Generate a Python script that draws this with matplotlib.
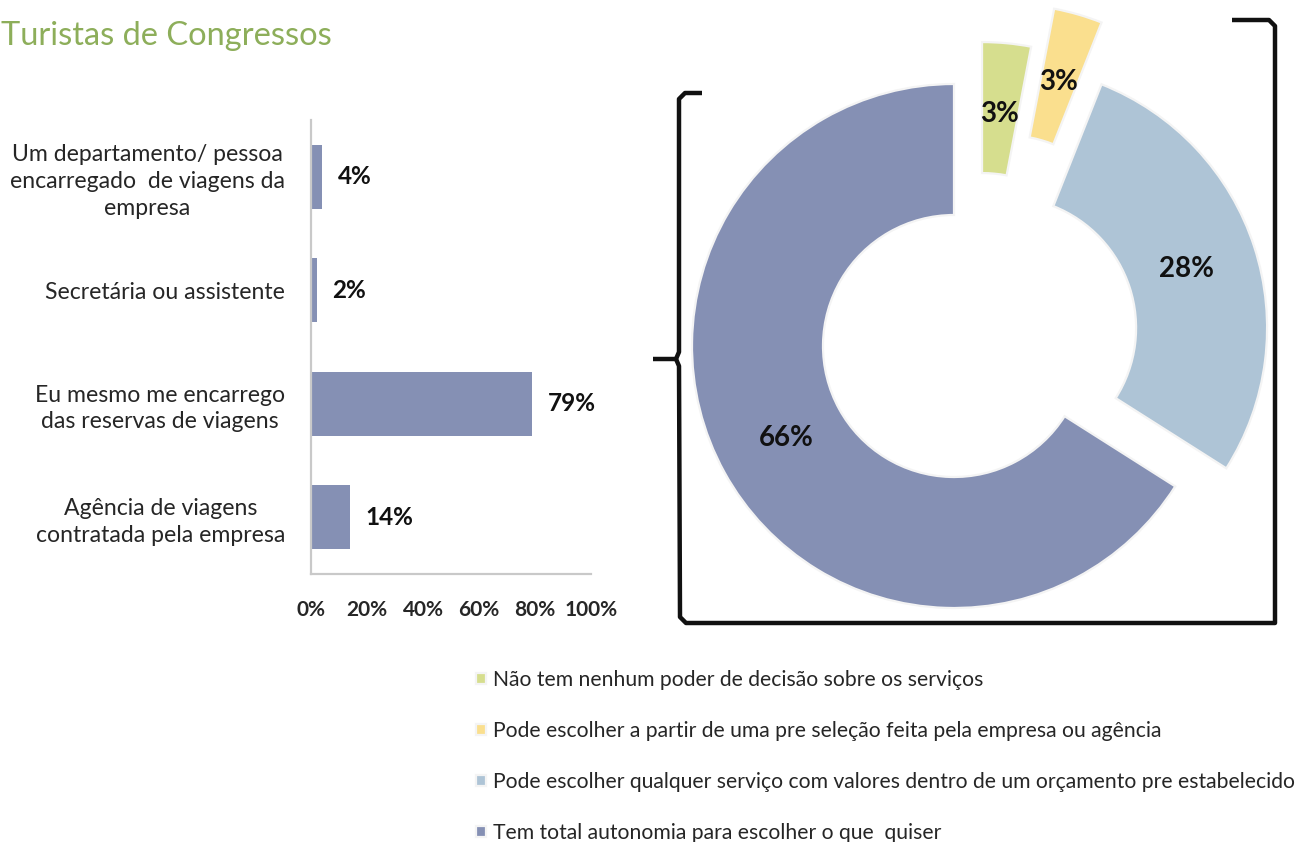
import matplotlib
matplotlib.use("Agg")
import matplotlib.pyplot as plt
import numpy as np

plt.rcParams["font.family"] = ["Lato", "DejaVu Sans"]

# ---- data ----------------------------------------------------------------
title = "Turistas de Congressos"

bar_categories = [
    "Um departamento/ pessoa\nencarregado  de viagens da\nempresa",
    "Secretária ou assistente",
    "Eu mesmo me encarrego\ndas reservas de viagens",
    "Agência de viagens\ncontratada pela empresa",
]
bar_values = [4, 2, 79, 14]
x_ticks = [0, 20, 40, 60, 80, 100]
x_tick_labels = ["0%", "20%", "40%", "60%", "80%", "100%"]

donut_labels = [
    "Não tem nenhum poder de decisão sobre os serviços",
    "Pode escolher a partir de uma pre seleção feita pela empresa ou agência",
    "Pode escolher qualquer serviço com valores dentro de um orçamento pre estabelecido",
    "Tem total autonomia para escolher o que  quiser",
]
donut_values = [3, 3, 28, 66]

# ---- styling -------------------------------------------------------------
BAR_COLOR = "#8590B4"
DONUT_COLORS = ["#D6DE8E", "#FADF8E", "#AEC4D6", "#8590B4"]
# shift of each ring segment away from the ring centre (in radius units)
SEGMENT_SHIFT = [(0.107, 0.160), (0.195, 0.305), (0.195, 0.069), (0.0, 0.0)]
TEXT = "#262626"

W, H = 1303, 842
fig = plt.figure(figsize=(W / 100, H / 100), dpi=100)


def fig_rect(x0, y0, x1, y1):
    """Pixel box (top-left origin) -> figure fraction rect."""
    return [x0 / W, 1 - y1 / H, (x1 - x0) / W, (y1 - y0) / H]


# ---- horizontal bar chart -------------------------------------------------
ax_x0, ax_x1 = 311, 591
ax = fig.add_axes(fig_rect(ax_x0, 120, ax_x1, 574))
ypos = np.arange(len(bar_values))
ax.barh(ypos, bar_values, height=0.56, color=BAR_COLOR, zorder=2)
ax.set_ylim(len(bar_values) - 0.5, -0.5)
ax.set_xlim(0, 100)
ax.set_yticks(ypos)
ax.set_yticklabels(bar_categories, fontsize=16.6, color=TEXT,
                   ha="right", multialignment="center", linespacing=1.33)
for lab in ax.get_yticklabels():
    lab.set_x((285 - ax_x0) / (ax_x1 - ax_x0))
ax.set_xticks(x_ticks)
ax.set_xticklabels(x_tick_labels, fontsize=15, fontweight="bold", color=TEXT)
ax.tick_params(axis="both", length=0)
ax.tick_params(axis="x", pad=19)
ax.tick_params(axis="y", pad=0)
for side in ("top", "right"):
    ax.spines[side].set_visible(False)
for side in ("left", "bottom"):
    ax.spines[side].set_color("#c9c9c9")
    ax.spines[side].set_linewidth(1.6)
for y, v in zip(ypos, bar_values):
    ax.annotate(f"{v}%", xy=(v, y), xytext=(11, 0), textcoords="offset points",
                va="center", ha="left", fontsize=17.5, fontweight="bold",
                color="#111111")

# ---- donut chart ----------------------------------------------------------
cx, cy, R = 954, 346, 262
x0, x1, y0, y1 = 640, 1290, 0, 650
dax = fig.add_axes(fig_rect(x0, y0, x1, y1))
wedges, _ = dax.pie(donut_values, colors=DONUT_COLORS, startangle=90,
                    counterclock=False, radius=1.0,
                    wedgeprops=dict(width=0.5, edgecolor="#f4f4f4",
                                    linewidth=1.6))
dax.set_xlim((x0 - cx) / R, (x1 - cx) / R)
dax.set_ylim((cy - y1) / R, (cy - y0) / R)
dax.set_aspect("equal")
dax.axis("off")
for w, (dx, dy), v in zip(wedges, SEGMENT_SHIFT, donut_values):
    w.set_center((dx, dy))
    w.set_clip_on(False)
    mid = np.deg2rad((w.theta1 + w.theta2) / 2)
    r = 0.73
    dax.text(dx + r * np.cos(mid), dy + r * np.sin(mid), f"{v}%",
             ha="center", va="center", fontsize=20, fontweight="bold",
             color="#111111")

# ---- legend ---------------------------------------------------------------
fig.legend(wedges, donut_labels, loc="upper left",
           bbox_to_anchor=(476 / W, 1 - 670 / H), frameon=False,
           fontsize=15.2, labelcolor=TEXT, handlelength=0.45,
           handleheight=0.45, handletextpad=0.35, labelspacing=1.47,
           borderpad=0, borderaxespad=0)

# ---- frame brackets around the donut ----------------------------------------
ov = fig.add_axes([0, 0, 1, 1], zorder=-1)
ov.set_xlim(0, W)
ov.set_ylim(H, 0)
ov.axis("off")
lw = 3.2
left_upper = [(702, 93), (685, 93), (679, 99), (679, 352), (676, 359)]
left_lower = [(676, 359), (679, 366), (680, 617), (686, 623), (1275, 623),
              (1275, 26), (1269, 20), (1232, 20)]
tick = [(653, 359), (677, 359)]
for seg in (left_upper, left_lower, tick):
    xs, ys = zip(*seg)
    ov.plot(xs, ys, color="#111111", lw=lw, solid_joinstyle="round",
            solid_capstyle="butt")

# ---- title -----------------------------------------------------------------
fig.text(1 / W, 1 - 36 / H, title, fontsize=23.5, color="#8DAE5A",
         ha="left", va="center")

fig.savefig("out.png", dpi=100)
